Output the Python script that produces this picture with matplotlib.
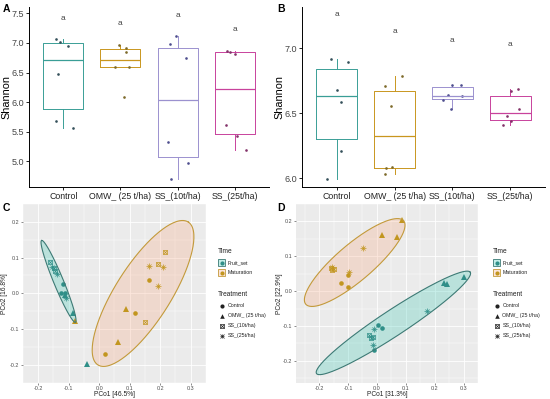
import numpy as np
import matplotlib.pyplot as plt
from matplotlib.patches import Rectangle

plt.rcParams['font.family'] = ['Liberation Sans', 'DejaVu Sans']

W, H = 550, 399

groups = ['Control', 'OMW_ (25 t/ha)', 'SS_(10t/ha)', 'SS_(25t/ha)']
box_colors = ['#3a9e96', '#c9961e', '#9b91cf', '#c8429c']
dot_colors = ['#34505a', '#7d6a2a', '#4f4f8f', '#83336a']

# --- panel A (Shannon) ---
a_control = [7.07, 7.02, 6.94, 6.48, 5.68, 5.57]
a_omw = [6.97, 6.91, 6.84, 6.59, 6.59, 6.08]
a_ss10 = [7.12, 6.98, 6.74, 5.33, 4.98, 4.70]
a_ss25 = [6.87, 6.85, 6.82, 5.61, 5.42, 5.19]
a_jit = [[-0.13, -0.06, 0.09, -0.10, -0.13, 0.17],
         [-0.03, 0.09, 0.09, -0.09, 0.15, 0.06],
         [-0.03, -0.13, 0.15, -0.16, 0.18, -0.11],
         [-0.13, -0.09, 0.01, -0.15, 0.04, 0.20]]
a_letter_y = [7.42, 7.32, 7.47, 7.22]

# --- panel B (Shannon) ---
b_control = [5.995, 6.915, 6.895, 6.68, 6.59, 6.21]
b_omw = [6.79, 6.71, 6.56, 6.09, 6.08, 6.03]
b_ss10 = [6.72, 6.72, 6.64, 6.63, 6.60, 6.53]
b_ss25 = [6.69, 6.67, 6.53, 6.48, 6.44, 6.41]
b_jit = [[-0.17, -0.10, 0.19, 0.01, 0.07, 0.07],
         [0.13, -0.17, -0.06, -0.05, -0.14, -0.16],
         [0.00, 0.14, -0.08, 0.17, -0.16, -0.03],
         [0.14, 0.01, 0.15, -0.05, 0.02, -0.13]]
b_letter_y = [7.26, 7.13, 7.06, 7.03]

# --- panel C (PCoA), treatment index: 0 control, 1 OMW, 2 SS10, 3 SS25 ---
c_fruit_x = [-0.119, -0.124, -0.113, -0.085, -0.040, -0.112, -0.163, -0.149, -0.144, -0.155, -0.137, -0.110]
c_fruit_y = [0.026, 0.000, 0.000, -0.056, -0.199, -0.005, 0.089, 0.072, 0.062, 0.074, 0.053, -0.013]
c_fruit_t = [0, 0, 0, 1, 1, 1, 2, 2, 2, 3, 3, 3]
c_mat_x = [0.162, 0.116, 0.019, 0.087, 0.062, -0.081, 0.217, 0.194, 0.150, 0.162, 0.210, 0.194]
c_mat_y = [0.036, -0.056, -0.170, -0.045, -0.135, -0.076, 0.115, 0.083, -0.081, 0.077, 0.074, 0.021]
c_mat_t = [0, 0, 0, 1, 1, 1, 2, 2, 2, 3, 3, 3]
# ellipses: centre, major half-axis, minor half-axis (data units)
c_ell_fruit = [(-0.1335, 0.0335), (-0.0555, 0.1145), (0.0147, 0.0055)]
c_ell_mat = [(0.1436, -0.0003), (0.1488, 0.1995), (0.0753, -0.0433)]

# --- panel D (PCoA) ---
d_fruit_x = [0.003, 0.018, -0.011, 0.300, 0.232, 0.241, -0.026, -0.015, -0.022, 0.172, -0.009, -0.013]
d_fruit_y = [-0.098, -0.106, -0.170, 0.040, 0.022, 0.020, -0.126, -0.131, -0.135, -0.057, -0.109, -0.154]
d_fruit_t = [0, 0, 0, 1, 1, 1, 2, 2, 2, 3, 3, 3]
d_mat_x = [-0.100, -0.123, -0.100, 0.088, 0.016, 0.069, -0.158, -0.150, -0.154, -0.049, -0.095, -0.154]
d_mat_y = [0.045, 0.022, 0.013, 0.204, 0.162, 0.156, 0.066, 0.062, 0.060, 0.123, 0.054, 0.068]
d_mat_t = [0, 0, 0, 1, 1, 1, 2, 2, 2, 3, 3, 3]
d_ell_fruit = [(0.0571, -0.0913), (0.266, 0.1455), (0.0254, -0.0302)]
d_ell_mat = [(-0.0768, 0.082), (0.169, 0.120), (0.0422, -0.0388)]

time_labels = ['Fruit_set', 'Maturation']
time_colors = ['#2f8f88', '#c2961f']
ell_edges = ['#3d7a75', '#c39a3a']
ell_fills = ['#3cc8b4', '#f7a882']


def px_box(l, t, r, b):
    return [l / W, 1 - b / H, (r - l) / W, (b - t) / H]


def mark(ax, x, y, kind, color, ms=3.3):
    if kind == 0:
        ax.plot(x, y, 'o', color=color, ms=ms, mew=0)
    elif kind == 1:
        ax.plot(x, y, '^', color=color, ms=ms * 1.1, mew=0)
    elif kind == 2:
        ax.plot(x, y, 's', mfc='none', mec=color, ms=ms * 0.9, mew=0.5)
        ax.plot(x, y, 'x', color=color, ms=ms * 0.8, mew=0.5)
    else:
        ax.plot(x, y, '+', color=color, ms=ms * 1.1, mew=0.5)
        ax.plot(x, y, 'x', color=color, ms=ms * 0.8, mew=0.5)


def box_panel(ax, data, jit, letter_y, ylim, yticks, ylab_x):
    pos = np.arange(len(data))
    bp = ax.boxplot(data, positions=pos, widths=0.7, showfliers=False,
                    whis=1.5, patch_artist=False, manage_ticks=False)
    for i, c in enumerate(box_colors):
        bp['boxes'][i].set(color=c, lw=0.7)
        bp['medians'][i].set(color=c, lw=0.9)
        for w in bp['whiskers'][2 * i:2 * i + 2]:
            w.set(color=c, lw=0.7)
        for cp in bp['caps'][2 * i:2 * i + 2]:
            cp.set_visible(False)
        ax.plot(pos[i] + np.array(jit[i]), data[i], 'o', color=dot_colors[i],
                ms=1.9, mew=0)
        ax.text(pos[i], letter_y[i], 'a', ha='center', va='center',
                fontsize=6, color='#444444')
    ax.set_xlim(-0.6, 3.6)
    ax.set_ylim(*ylim)
    ax.set_yticks(yticks)
    ax.set_yticklabels([f'{v:.1f}' for v in yticks])
    ax.set_xticks(pos)
    ax.set_xticklabels(groups, fontsize=6.3, color='#222222')
    ax.tick_params(axis='y', labelsize=6.5, labelcolor='#444444', length=2,
                   width=0.6, pad=1.5)
    ax.tick_params(axis='x', length=2, width=0.6, pad=1.5)
    for s in ['top', 'right']:
        ax.spines[s].set_visible(False)
    for s in ['left', 'bottom']:
        ax.spines[s].set_linewidth(0.7)
    ax.set_ylabel('Shannon', fontsize=7.8)
    ax.yaxis.set_label_coords(ylab_x, 0.5)


def ellipse(ax, ell, fc, ec):
    (cx, cy), (ux, uy), (vx, vy) = ell
    t = np.linspace(0, 2 * np.pi, 240)
    ex = cx + ux * np.cos(t) + vx * np.sin(t)
    ey = cy + uy * np.cos(t) + vy * np.sin(t)
    ax.fill(ex, ey, fc=fc, alpha=0.28, ec='none', zorder=2)
    ax.plot(ex, ey, color=ec, lw=0.8, zorder=3)


def pcoa_panel(ax, sets, ells, xlim, ylim, xlab, ylab, ylab_x, xlab_y):
    ax.set_facecolor('#ebebeb')
    ax.set_xlim(*xlim)
    ax.set_ylim(*ylim)
    ticks_x = np.round(np.arange(-0.2, 0.31, 0.1), 1)
    ticks_y = np.round(np.arange(-0.2, 0.21, 0.1), 1)
    ax.set_xticks(ticks_x)
    ax.set_yticks(ticks_y)
    ax.set_xticks(np.round(np.arange(-0.25, 0.36, 0.1), 2), minor=True)
    ax.set_yticks(np.round(np.arange(-0.25, 0.26, 0.1), 2), minor=True)
    ax.set_xticklabels([f'{v:.1f}' for v in ticks_x])
    ax.set_yticklabels([f'{v:.1f}' for v in ticks_y])
    ax.grid(which='major', color='white', lw=0.6)
    ax.grid(which='minor', color='white', lw=0.3)
    ax.set_axisbelow(True)
    ax.tick_params(which='major', labelsize=3.9, labelcolor='#4d4d4d',
                   length=1.5, width=0.4, color='#333333', pad=1)
    ax.tick_params(which='minor', length=0)
    for s in ax.spines.values():
        s.set_visible(False)
    for k in range(2):
        ellipse(ax, ells[k], ell_fills[k], ell_edges[k])
    for k, (xs, ys, ts) in enumerate(sets):
        for x, y, t in zip(xs, ys, ts):
            mark(ax, x, y, t, time_colors[k])
    ax.set_xlabel(xlab, fontsize=4.8, color='#222222')
    ax.set_ylabel(ylab, fontsize=4.8, color='#222222')
    ax.yaxis.set_label_coords(ylab_x, 0.5)
    ax.xaxis.set_label_coords(0.5, xlab_y)


fig = plt.figure(figsize=(5.5, 3.99), dpi=100)

ax_a = fig.add_axes(px_box(29, 6.8, 269, 187.4))
box_panel(ax_a, [a_control, a_omw, a_ss10, a_ss25], a_jit, a_letter_y,
          (4.56, 7.61), [5.0, 5.5, 6.0, 6.5, 7.0, 7.5], -0.072)

ax_b = fig.add_axes(px_box(302, 6.7, 545, 187.4))
box_panel(ax_b, [b_control, b_omw, b_ss10, b_ss25], b_jit, b_letter_y,
          (5.93, 7.32), [6.0, 6.5, 7.0], -0.072)

ax_c = fig.add_axes(px_box(23, 204, 206, 382.7))
pcoa_panel(ax_c, [(c_fruit_x, c_fruit_y, c_fruit_t), (c_mat_x, c_mat_y, c_mat_t)],
           [c_ell_fruit, c_ell_mat], (-0.2125, 0.3195), (-0.225, 0.2298),
           'PCo1 [46.5%]', 'PCo2 [16.8%]', -0.080, -0.045)

ax_d = fig.add_axes(px_box(296, 204, 478, 382.7))
pcoa_panel(ax_d, [(d_fruit_x, d_fruit_y, d_fruit_t), (d_mat_x, d_mat_y, d_mat_t)],
           [d_ell_fruit, d_ell_mat], (-0.28, 0.345), (-0.263, 0.2324),
           'PCo1 [31.3%]', 'PCo2 [22.9%]', -0.070, -0.045)

# overlay in pixel units for panel tags and legends
ov = fig.add_axes([0, 0, 1, 1], facecolor='none')
ov.set_xlim(0, W)
ov.set_ylim(H, 0)
ov.axis('off')

for tag, x, y in [('A', 3, 9), ('B', 277, 9), ('C', 3, 208), ('D', 277, 208)]:
    ov.text(x, y, tag, fontsize=7.5, fontweight='bold', va='center', ha='left')


def legend(x0):
    ov.text(x0, 251.7, 'Time', fontsize=4.8, va='center', color='#222222')
    for k, y in enumerate([262.7, 272.7]):
        ov.add_patch(Rectangle((x0 + 0.5, y - 3.6), 7.2, 7.2, fc='white',
                               ec='none'))
        ov.add_patch(Rectangle((x0 + 0.5, y - 3.6), 7.2, 7.2, fc=ell_fills[k],
                               alpha=0.3, ec='none'))
        ov.add_patch(Rectangle((x0 + 0.5, y - 3.6), 7.2, 7.2, fc='none',
                               ec=ell_edges[k], lw=0.6))
        ov.plot(x0 + 4.1, y, 'o', color=time_colors[k], ms=3, mew=0)
        ov.text(x0 + 10, y, time_labels[k], fontsize=3.8, va='center',
                color='#222222')
    ov.text(x0, 294, 'Treatment', fontsize=4.8, va='center', color='#222222')
    for k, y in enumerate([305.7, 315.7, 326, 336]):
        mark(ov, x0 + 4.1, y, k, '#222222', ms=3)
        ov.text(x0 + 10, y, groups[k], fontsize=3.8, va='center',
                color='#222222')


legend(217.5)
legend(492.5)

fig.savefig('out.png', dpi=100)
